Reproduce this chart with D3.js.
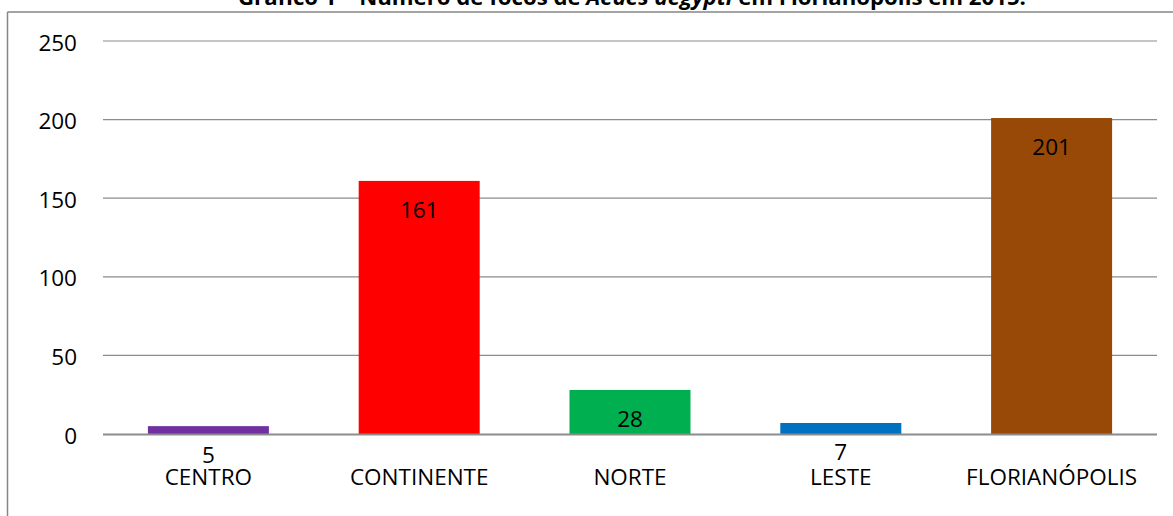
<!DOCTYPE html>
<html><head><meta charset="utf-8">
<script src="https://cdn.jsdelivr.net/npm/d3@7"></script>
<style>
html,body{margin:0;padding:0;background:#fff;overflow:hidden;}
text{font-family:"Open Sans",sans-serif;}
</style></head>
<body>
<svg id="c" width="1173" height="516"></svg>
<script>
const categories = ["CENTRO","CONTINENTE","NORTE","LESTE","FLORIANÓPOLIS"];
const values = [5,161,28,7,201];
const colors = ["#7030A0","#FF0000","#00B050","#0070C0","#984807"];
const yTicks = [0,50,100,150,200,250];

const svg = d3.select("#c");
const W = 1173, H = 516;
const plot = {left:103, right:1157, top:41, bottom:434};

// frame
svg.append("line").attr("x1",7.5).attr("x2",W).attr("y1",12).attr("y2",12)
  .attr("stroke","#868686").attr("stroke-width",1.5);
svg.append("line").attr("x1",7.5).attr("x2",7.5).attr("y1",12).attr("y2",H)
  .attr("stroke","#868686").attr("stroke-width",1.5);

// title (partially clipped at top)
const title = svg.append("text").attr("x",632).attr("y",4.5)
  .attr("text-anchor","middle").attr("font-weight","bold").attr("font-size",22.2).attr("fill","#000");
title.append("tspan").text("Gráfico 1 – Número de focos de ");
title.append("tspan").attr("font-style","italic").text("Aedes aegypti");
title.append("tspan").text(" em Florianópolis em 2015.");

const x = d3.scaleBand().domain(categories).range([plot.left, plot.right]).paddingInner(0.426).paddingOuter(0.213);
const y = d3.scaleLinear().domain([0,250]).range([plot.bottom, plot.top]);

// gridlines
svg.append("g").selectAll("line").data(yTicks.filter(t=>t>0)).join("line")
  .attr("x1",plot.left).attr("x2",plot.right)
  .attr("y1",d=>y(d)).attr("y2",d=>y(d))
  .attr("stroke","#8c8c8c").attr("stroke-width",1.2);

// y tick labels
const yAxis = d3.axisLeft(y).tickValues(yTicks).tickSize(0).tickPadding(0);
const ya = svg.append("g").attr("transform","translate(77,0)").call(yAxis);
ya.select(".domain").remove();
ya.selectAll("text").attr("font-size",22.5).attr("fill","#000")
  .attr("font-family","'Open Sans',sans-serif").attr("dy","0.36em").attr("y",1);

// bars
svg.append("g").selectAll("rect").data(values).join("rect")
  .attr("x",(d,i)=>x(categories[i]))
  .attr("width",x.bandwidth())
  .attr("y",d=>y(d))
  .attr("height",d=>y(0)-y(d))
  .attr("fill",(d,i)=>colors[i]);

// baseline axis
svg.append("line").attr("x1",plot.left).attr("x2",plot.right)
  .attr("y1",y(0)+0.5).attr("y2",y(0)+0.5).attr("stroke","#8c8c8c").attr("stroke-width",2);

// value labels (inside end)
svg.append("g").selectAll("text").data(values).join("text")
  .attr("x",(d,i)=>x(categories[i])+x.bandwidth()/2)
  .attr("y",d=>y(d)+37)
  .attr("text-anchor","middle").attr("font-size",22.5).attr("fill","#000")
  .text(d=>d);

// category labels
const xAxis = d3.axisBottom(x).tickSize(0).tickPadding(0);
const xa = svg.append("g").call(xAxis);
xa.select(".domain").remove();
xa.selectAll("text").attr("font-size",22.5).attr("fill","#000")
  .attr("font-family","'Open Sans',sans-serif").attr("y",484.5).attr("dy",0);
</script>
</body></html>
